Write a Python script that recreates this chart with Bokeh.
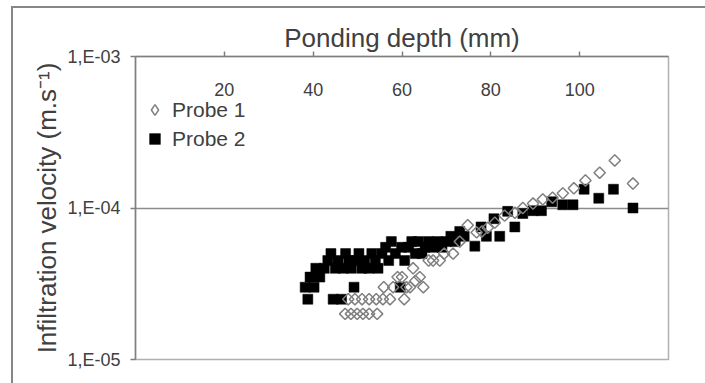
from bokeh.plotting import figure
from bokeh.models import (FixedTicker, CustomJSTickFormatter, Range1d, Legend, LegendItem,
                          ColumnDataSource)
from bokeh.embed import file_html
from bokeh.resources import INLINE

# ---- data ----
probe1_depth = [47.2, 48.5, 49.9, 51.2, 52.6, 54.4,
                47.9, 49.4, 51.0, 52.6, 54.2, 55.7, 57.3, 60.5,
                55.9, 58.0, 59.0, 60.0, 61.0, 61.8, 62.5, 63.0, 64.0, 64.8,
                66.0, 67.0, 68.5, 69.5, 71.5, 73.0, 74.8, 76.8, 78.0, 79.3,
                80.9, 83.1, 85.4, 87.2, 89.5, 91.7, 93.9, 96.2, 98.7, 101.3,
                104.5, 107.9, 112.0]
probe1_vel = [2.0e-5, 2.0e-5, 2.0e-5, 2.0e-5, 2.0e-5, 2.0e-5,
              2.5e-5, 2.5e-5, 2.5e-5, 2.5e-5, 2.5e-5, 2.5e-5, 2.5e-5, 2.5e-5,
              3.0e-5, 3.0e-5, 3.5e-5, 3.5e-5, 3.0e-5, 3.0e-5, 4.0e-5, 3.3e-5, 3.5e-5, 3.0e-5,
              4.5e-5, 4.5e-5, 4.5e-5, 5.0e-5, 5.0e-5, 6.0e-5, 7.7e-5, 6.9e-5, 7.0e-5, 7.4e-5,
              8.0e-5, 8.9e-5, 9.3e-5, 1.0e-4, 1.07e-4, 1.14e-4, 1.17e-4, 1.25e-4, 1.35e-4, 1.52e-4,
              1.71e-4, 2.06e-4, 1.45e-4]

probe2_depth = [38.2, 38.8, 39.3, 40.2, 40.6, 41.5,
                42.5, 43.3, 44.0, 44.5, 45.0, 45.6, 46.4, 46.8, 47.3, 48.0, 48.6, 49.2, 49.6, 50.3,
                51.0, 51.6, 52.5, 53.2, 54.0, 54.6, 55.5, 56.3, 57.0, 57.6, 58.5, 59.6, 59.9,
                60.6, 61.5, 62.2, 63.0, 63.7, 64.5, 65.2, 66.0, 67.0, 68.0, 69.0, 70.0, 71.0,
                72.0, 73.0, 74.0, 76.4, 77.8, 79.0, 80.7, 82.0, 83.8, 85.4, 87.2, 89.5, 91.4,
                93.7, 96.2, 98.5, 101.0, 104.3, 107.6, 112.0]
probe2_vel = [3.0e-5, 2.5e-5, 3.5e-5, 3.0e-5, 4.0e-5, 3.5e-5,
              4.0e-5, 4.5e-5, 5.0e-5, 2.5e-5, 4.0e-5, 4.5e-5, 2.5e-5, 4.0e-5, 5.0e-5, 4.5e-5, 4.0e-5, 3.0e-5, 4.5e-5, 5.0e-5,
              4.0e-5, 4.5e-5, 4.0e-5, 5.0e-5, 4.5e-5, 4.0e-5, 5.0e-5, 5.5e-5, 4.5e-5, 6.0e-5, 5.0e-5, 3.0e-5, 5.5e-5,
              4.5e-5, 5.5e-5, 6.0e-5, 5.0e-5, 6.0e-5, 5.0e-5, 5.5e-5, 6.0e-5, 5.5e-5, 6.0e-5, 5.5e-5, 6.0e-5, 6.5e-5,
              6.0e-5, 7.0e-5, 6.5e-5, 5.6e-5, 7.5e-5, 6.5e-5, 8.5e-5, 6.5e-5, 9.5e-5, 7.5e-5, 9.2e-5, 9.6e-5, 9.6e-5,
              1.1e-4, 1.05e-4, 1.05e-4, 1.33e-4, 1.16e-4, 1.33e-4, 1.0e-4]

x_ticks = [20, 40, 60, 80, 100]
y_ticks = [1e-5, 1e-4, 1e-3]
y_tick_labels = ["1,E-05", "1,E-04", "1,E-03"]

FONT = "Liberation Sans"
TXT = "#404040"
BORDER = "#868686"

p = figure(width=705, height=383, output_backend="svg", toolbar_location=None,
           y_axis_type="log", x_axis_location="above",
           x_range=Range1d(0, 120), y_range=Range1d(1e-5, 1e-3),
           min_border_left=135, min_border_right=37, min_border_top=56, min_border_bottom=24)
p.background_fill_color = "white"
p.border_fill_alpha = 0
p.outline_line_color = "#b0b0b0"
p.outline_line_width = 1.5
# outer chart border (top and left edges of the chart area)
p.styles = {
    "background-color": "white",
    "background-image": f"linear-gradient({BORDER},{BORDER}), linear-gradient({BORDER},{BORDER})",
    "background-size": "2px 100%, 100% 2px",
    "background-position": "11px 6px, 11px 6px",
    "background-repeat": "no-repeat",
}

# x axis (top), labels pulled inside the plot area
xa = p.xaxis[0]
xa.ticker = FixedTicker(ticks=x_ticks)
xa.major_label_text_font = FONT
xa.major_label_text_font_size = "18px"
xa.major_label_text_color = TXT
xa.major_label_standoff = -44
xa.major_tick_out = 5
xa.major_tick_in = 0
xa.minor_tick_out = 0
xa.minor_tick_in = 0
xa.axis_line_color = "#7f7f7f"
xa.axis_line_width = 1.5
xa.major_tick_line_color = "#7f7f7f"
xa.major_tick_line_width = 1.5
xa.axis_label = "Ponding depth (mm)"
xa.axis_label_text_font = FONT
xa.axis_label_text_font_size = "26px"
xa.axis_label_text_font_style = "normal"
xa.axis_label_text_color = TXT
xa.axis_label_standoff = 27

# y axis (left, log)
ya = p.yaxis[0]
ya.ticker = FixedTicker(ticks=y_ticks)
ya.formatter = CustomJSTickFormatter(args=dict(yt=y_ticks, yl=y_tick_labels), code="""
    for (let i = 0; i < yt.length; i++) {
        if (Math.abs(Math.log10(yt[i]) - Math.log10(tick)) < 1e-6) return yl[i];
    }
    return '';
""")
ya.major_label_text_font = FONT
ya.major_label_text_font_size = "18px"
ya.major_label_text_color = TXT
ya.major_label_standoff = 10
ya.major_tick_out = 5
ya.major_tick_in = 0
ya.minor_tick_out = 0
ya.minor_tick_in = 0
ya.axis_line_color = "#7f7f7f"
ya.axis_line_width = 1.5
ya.major_tick_line_color = "#7f7f7f"
ya.major_tick_line_width = 1.5
ya.axis_label = "Infiltration velocity (m.s\u207b\u00b9)"
ya.axis_label_text_font = FONT
ya.axis_label_text_font_size = "26px"
ya.axis_label_text_font_style = "normal"
ya.axis_label_text_color = TXT
ya.axis_label_standoff = 2

p.xgrid.visible = False
p.ygrid.ticker = FixedTicker(ticks=[1e-4])
p.ygrid.grid_line_color = "#8c8c8c"
p.ygrid.grid_line_width = 1.5

src2 = ColumnDataSource(dict(x=probe2_depth, y=probe2_vel))
src1 = ColumnDataSource(dict(x=probe1_depth, y=probe1_vel))
r2 = p.scatter("x", "y", source=src2, marker="square", size=10,
               fill_color="black", line_color="black", line_width=0.5)
r1 = p.scatter("x", "y", source=src1, marker="square", size=8, angle=0.785398,
               fill_color=None, line_color="#808080", line_width=1.5)
# legend swatch for Probe 1: legend markers are drawn unrotated, so a hidden
# diamond-marker renderer on the same data provides the key symbol
r1_key = p.scatter("x", "y", source=src1, marker="diamond", size=12, visible=False,
                   fill_color=None, line_color="#808080", line_width=1.5)

legend = Legend(items=[LegendItem(label="Probe 1", renderers=[r1_key]),
                       LegendItem(label="Probe 2", renderers=[r2])],
                location=(6, 207), orientation="vertical")
legend.background_fill_alpha = 0
legend.border_line_color = None
legend.inactive_fill_alpha = 0
legend.padding = 0
legend.margin = 0
legend.spacing = 2
legend.glyph_width = 27
legend.glyph_height = 27
legend.label_height = 25
legend.label_standoff = 4
legend.label_text_font = FONT
legend.label_text_font_size = "21px"
legend.label_text_color = TXT
p.add_layout(legend, "center")

open("out.html", "w").write(file_html(p, INLINE))
